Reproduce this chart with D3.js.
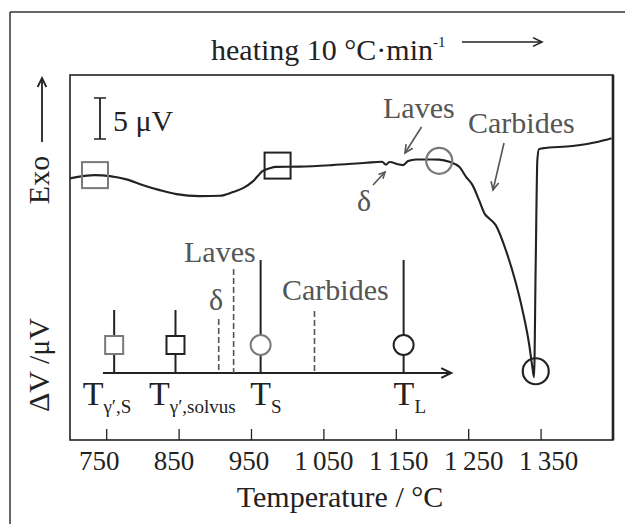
<!DOCTYPE html>
<html><head><meta charset="utf-8">
<script src="https://cdn.jsdelivr.net/npm/d3@7"></script>
<style>
html,body{margin:0;padding:0;background:#fff;}
svg{display:block;font-family:"Liberation Serif","Times New Roman",serif;}
</style></head>
<body><svg id="chart" width="625" height="524"></svg>
<script>
// ---- data ----
const curveT = [700,734.5,755,778,801,824,847,879,907,925,939,953,966,976,985,1017,1062,1109,1131,1136.5,1141,1155,1160,1167,1178,1200,1210,1224,1238,1247,1256,1265,1273,1279,1288,1302,1316,1325,1334,1338.6,1340.9,1343.3,1345.5,1347.8,1352.4,1394,1430,1448];
const curveV = [-0.40,0,-0.12,-0.52,-1.22,-1.83,-2.32,-2.56,-2.52,-2.07,-1.59,-0.73,0.49,0.85,1.01,1.04,1.22,1.50,1.62,1.28,1.59,1.30,1.22,1.71,1.91,1.91,1.89,1.62,0.98,-0.21,-1.22,-3.05,-4.76,-5.28,-6.10,-9.15,-13.21,-16.46,-20.52,-23.38,-24.63,-10.37,1.83,3.17,3.26,3.54,4.06,4.48];
const tickValues = [750,850,950,1050,1150,1250,1350];
const tickLabels = ["750","850","950","1\u2009050","1\u2009150","1\u2009250","1\u2009350"];
const curveMarkT = [734.5, 986.7, 1210, 1343.3];
const curveMarkV = [0, 1.16, 1.74, -23.9];
const curveMarkShape = ["square","square","circle","circle"];
const curveMarkTone = ["gray","dark","gray","dark"];
const scaleBarTop = 9.4, scaleBarSize = 5;
const insetT = [761, 845.7, 905.4, 926, 963.3, 1037.7, 1160.8];
const insetKind = ["square","square","dash","dash","circle","dash","circle"];
const insetTone = ["gray","dark","gray","gray","gray","gray","dark"];
const insetText = [null,null,"δ","Laves",null,"Carbides",null];
const insetAxisT = [745.5, 1226.5];
const tLabelSub = ["γ′,S","γ′,solvus","S","L"];
const tLabelT = [761, 845.7, 963.3, 1160.8];

const svg = d3.select("#chart");
const W = 625, H = 524;
const pL = 70, pR = 613, pT = 75, pB = 440;
const x = d3.scaleLinear().domain([700,1450]).range([pL,pR]);
const y = d3.scaleLinear().domain([-32.4,12.2]).range([441,75]);
const dark = "#222", gray = "#555", mgray = "#7a7a7a";
const FS = 30;

svg.append("rect").attr("width",W).attr("height",H).attr("fill","#fff");
svg.append("line").attr("x1",10).attr("x2",W).attr("y1",12).attr("y2",12).attr("stroke","#333").attr("stroke-width",1.5);
svg.append("line").attr("x1",10).attr("x2",10).attr("y1",12).attr("y2",H).attr("stroke","#333").attr("stroke-width",1.5);

svg.append("rect").attr("x",pL).attr("y",pT).attr("width",pR-pL).attr("height",pB-pT)
  .attr("fill","none").attr("stroke",dark).attr("stroke-width",1.6);
svg.append("line").attr("x1",pR).attr("x2",pR).attr("y1",pT).attr("y2",pB).attr("stroke",dark).attr("stroke-width",2.6);

const axis = d3.axisBottom(x).tickValues(tickValues).tickSize(-11).tickFormat((d,i)=>tickLabels[i]).tickPadding(11);
const ax = svg.append("g").attr("transform",`translate(0,${pB})`).call(axis);
ax.select(".domain").remove();
ax.selectAll(".tick line").attr("stroke",dark).attr("stroke-width",1.3);
ax.selectAll(".tick text").attr("fill",dark).attr("font-size",27).attr("font-family","Liberation Serif")
  .attr("dy","0.71em").attr("dx",(d,i)=>(i-3)*2.5);

svg.append("text").attr("x",340).attr("y",507).attr("text-anchor","middle").attr("font-size",FS).attr("fill",dark).text("Temperature / °C");

function arrow(x1,y1,x2,y2,color,len,sw){
  svg.append("line").attr("x1",x1).attr("y1",y1).attr("x2",x2).attr("y2",y2).attr("stroke",color).attr("stroke-width",sw);
  const a = Math.atan2(y2-y1,x2-x1), s = 0.45;
  const p = [[x2-len*Math.cos(a-s), y2-len*Math.sin(a-s)],[x2,y2],[x2-len*Math.cos(a+s), y2-len*Math.sin(a+s)]];
  svg.append("path").attr("d",d3.line()(p)).attr("fill","none").attr("stroke",color).attr("stroke-width",sw);
}

const ht = svg.append("text").attr("x",211).attr("y",60).attr("font-size",FS).attr("fill",dark);
ht.append("tspan").text("heating 10 °C·min");
ht.append("tspan").attr("dy",-13).attr("font-size",15).text("-1");
arrow(462,42,542,42,dark,10,1.6);

svg.append("text").attr("transform","translate(49,180) rotate(-90)").attr("text-anchor","middle").attr("font-size",FS).attr("fill",dark).text("Exo");
svg.append("text").attr("transform","translate(49,365) rotate(-90)").attr("text-anchor","middle").attr("font-size",FS).attr("fill",dark).text("ΔV /μV");
arrow(42,142,42,78,dark,10,1.8);

const sbX = 100;
const sbY1 = y(scaleBarTop), sbY2 = y(scaleBarTop - scaleBarSize);
svg.append("line").attr("x1",sbX).attr("x2",sbX).attr("y1",sbY1).attr("y2",sbY2).attr("stroke",dark).attr("stroke-width",1.8);
[sbY1,sbY2].forEach(yy=>svg.append("line").attr("x1",sbX-6).attr("x2",sbX+6).attr("y1",yy).attr("y2",yy).attr("stroke",dark).attr("stroke-width",1.5));
svg.append("text").attr("x",113).attr("y",131).attr("font-size",FS).attr("fill",dark).text("5 μV");

const pts = curveT.map((t,i)=>[x(t), y(curveV[i])]);
svg.append("path").attr("d",d3.line().curve(d3.curveMonotoneX)(pts)).attr("fill","none").attr("stroke",dark).attr("stroke-width",2.1).attr("stroke-linejoin","round");

curveMarkT.forEach((t,i)=>{
  const cx = x(t), cy = y(curveMarkV[i]);
  const col = curveMarkTone[i]==="gray" ? mgray : dark;
  if(curveMarkShape[i]==="square"){
    svg.append("rect").attr("x",cx-13).attr("y",cy-13).attr("width",26).attr("height",26).attr("fill","none").attr("stroke",col).attr("stroke-width",2);
  } else {
    svg.append("circle").attr("cx",cx).attr("cy",cy).attr("r",13).attr("fill","none").attr("stroke",col).attr("stroke-width",2.2);
  }
});

svg.append("text").attr("x",383).attr("y",118).attr("font-size",FS).attr("fill",gray).text("Laves");
arrow(421.5,127,405,153,gray,9,1.6);
svg.append("text").attr("x",468).attr("y",133).attr("font-size",FS).attr("fill",gray).text("Carbides");
arrow(504,143,493,190,gray,9,1.6);
svg.append("text").attr("x",357).attr("y",211).attr("font-size",FS).attr("fill",gray).text("δ");
arrow(373,185,385,172,gray,7,1.6);

const axY = 373, mY = 345;
svg.append("line").attr("x1",x(insetAxisT[0])).attr("x2",x(insetAxisT[1])).attr("y1",axY).attr("y2",axY).attr("stroke",dark).attr("stroke-width",2);
arrow(x(insetAxisT[1])-20,axY,x(insetAxisT[1]),axY,dark,11,2);
const stickTop = {square:310, circle:260};
const dashTop = {"δ":319, "Laves":269, "Carbides":311};
insetT.forEach((t,i)=>{
  const cx = x(t), kind = insetKind[i];
  const col = insetTone[i]==="gray" ? mgray : dark;
  if(kind==="dash"){
    svg.append("line").attr("x1",cx).attr("x2",cx).attr("y1",dashTop[insetText[i]]).attr("y2",axY)
      .attr("stroke",gray).attr("stroke-width",1.6).attr("stroke-dasharray","6,3");
  } else {
    const half = kind==="square" ? 9 : 10;
    svg.append("line").attr("x1",cx).attr("x2",cx).attr("y1",stickTop[kind]).attr("y2",mY-half).attr("stroke",dark).attr("stroke-width",2);
    svg.append("line").attr("x1",cx).attr("x2",cx).attr("y1",mY+half).attr("y2",axY).attr("stroke",dark).attr("stroke-width",2);
    if(kind==="square") svg.append("rect").attr("x",cx-half).attr("y",mY-half).attr("width",2*half).attr("height",2*half).attr("fill","none").attr("stroke",col).attr("stroke-width",2);
    else svg.append("circle").attr("cx",cx).attr("cy",mY).attr("r",half).attr("fill","none").attr("stroke",col).attr("stroke-width",2);
  }
});
svg.append("text").attr("x",209).attr("y",310).attr("font-size",FS).attr("fill",gray).text("δ");
svg.append("text").attr("x",184).attr("y",262).attr("font-size",FS).attr("fill",gray).text("Laves");
svg.append("text").attr("x",282).attr("y",300).attr("font-size",FS).attr("fill",gray).text("Carbides");
const tOffset = [-31.5,-26.5,-10.5,-10];
tLabelT.forEach((t,i)=>{
  const tx = svg.append("text").attr("x",x(t)+tOffset[i]).attr("y",405).attr("font-size",34).attr("fill",dark);
  tx.append("tspan").text("T");
  tx.append("tspan").attr("dy",8).attr("font-size",19).text(tLabelSub[i]);
});
</script></body></html>
